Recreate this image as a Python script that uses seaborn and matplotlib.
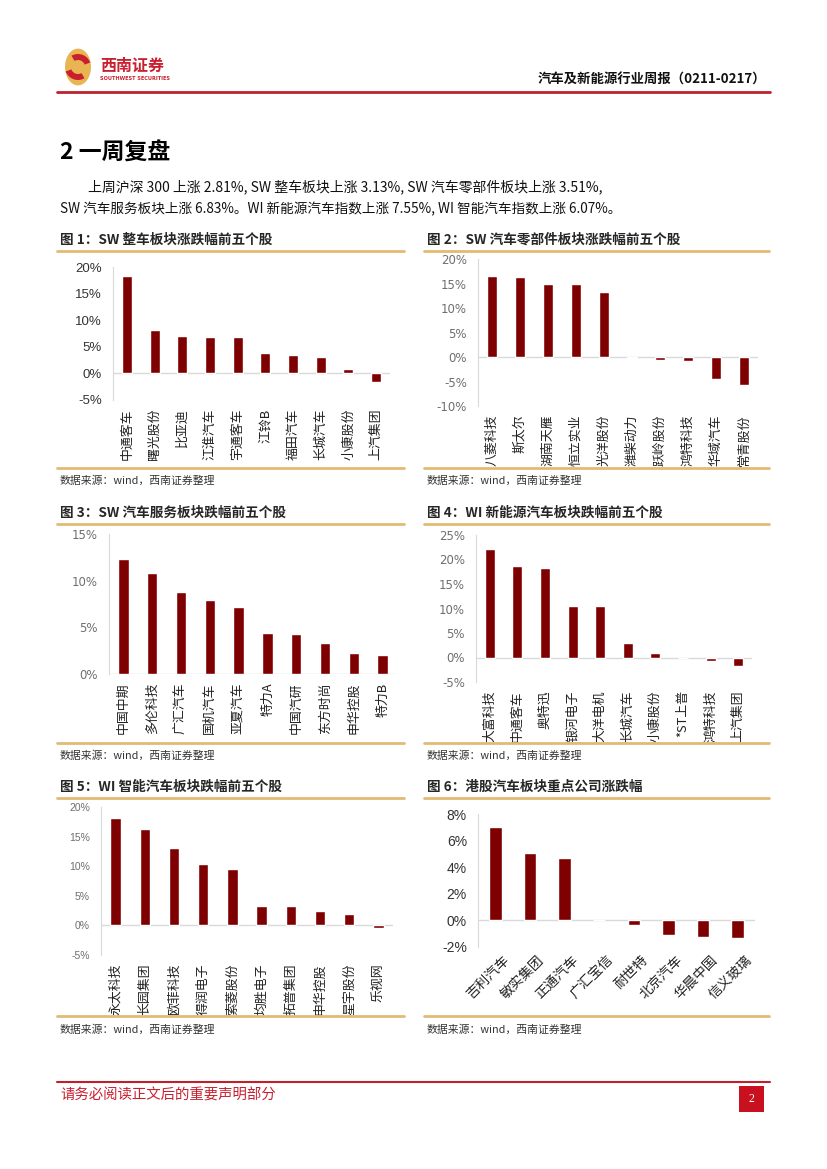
import matplotlib
matplotlib.use("Agg")
import matplotlib.pyplot as plt
import matplotlib.ticker as mticker
import matplotlib.transforms as mtransforms
from matplotlib.patches import Circle, Wedge, Rectangle
from matplotlib.lines import Line2D
import seaborn as sns

# ---- data ----
c1_title = "图 1：SW 整车板块涨跌幅前五个股"
c1_names = ["中通客车", "曙光股份", "比亚迪", "江淮汽车", "宇通客车", "江铃B", "福田汽车", "长城汽车", "小康股份", "上汽集团"]
c1_vals = [18.3, 8.1, 7.0, 6.9, 6.8, 3.8, 3.4, 3.1, 0.9, -1.6]

c2_title = "图 2：SW 汽车零部件板块涨跌幅前五个股"
c2_names = ["八菱科技", "斯太尔", "湖南天雁", "恒立实业", "光洋股份", "潍柴动力", "跃岭股份", "鸿特科技", "华域汽车", "常青股份"]
c2_vals = [16.5, 16.3, 15.0, 14.9, 13.2, -0.3, -0.6, -0.8, -4.5, -5.7]

c3_title = "图 3：SW 汽车服务板块跌幅前五个股"
c3_names = ["中国中期", "多伦科技", "广汇汽车", "国机汽车", "亚夏汽车", "特力A", "中国汽研", "东方时尚", "申华控股", "特力B"]
c3_vals = [12.35, 10.8, 8.8, 7.95, 7.2, 4.4, 4.3, 3.3, 2.3, 2.0]

c4_title = "图 4：WI 新能源汽车板块跌幅前五个股"
c4_names = ["大富科技", "中通客车", "奥特迅", "银河电子", "大洋电机", "长城汽车", "小康股份", "*ST上普", "鸿特科技", "上汽集团"]
c4_vals = [22.1, 18.6, 18.2, 10.6, 10.6, 3.0, 0.9, 0.0, -0.8, -1.7]

c5_title = "图 5：WI 智能汽车板块跌幅前五个股"
c5_names = ["永太科技", "长园集团", "欧菲科技", "得润电子", "索菱股份", "均胜电子", "拓普集团", "申华控股", "星宇股份", "乐视网"]
c5_vals = [18.1, 16.3, 13.05, 10.3, 9.5, 3.3, 3.3, 2.4, 2.0, -0.4]

c6_title = "图 6：港股汽车板块重点公司涨跌幅"
c6_names = ["吉利汽车", "敏实集团", "正通汽车", "广汇宝信", "耐世特", "北京汽车", "华晨中国", "信义玻璃"]
c6_vals = [7.0, 5.1, 4.7, 0.0, -0.33, -1.13, -1.28, -1.3]

source_text = "数据来源：wind，西南证券整理"

sns.set_style("white")
plt.rcParams["font.family"] = ["Noto Sans CJK SC", "DejaVu Sans"]
plt.rcParams["axes.unicode_minus"] = False

W, H = 827, 1169
fig = plt.figure(figsize=(W / 100, H / 100), dpi=100)

BAR = "#7F0000"
GOLD = "#E2BA75"
RED = "#C0202B"


def fx(x):
    return x / W


def fy(y):
    return 1 - y / H


def hline(x0, x1, y, color, lw):
    fig.add_artist(Line2D([fx(x0), fx(x1)], [fy(y), fy(y)], color=color, lw=lw,
                          transform=fig.transFigure))


def bar_chart(box, names, vals, ylim, step, tick_font, tick_size, tick_color,
              label_size=9.3, rot=90, width=0.36):
    left, top, right, bottom = box
    ax = fig.add_axes([fx(left), fy(bottom), fx(right - left), (bottom - top) / H])
    sns.barplot(x=names, y=vals, color=BAR, saturation=1, width=width, ax=ax)
    ax.set_xlim(-0.5, len(names) - 0.5)
    ax.set_ylim(*ylim)
    ax.yaxis.set_major_locator(mticker.MultipleLocator(step))
    ax.yaxis.set_major_formatter(mticker.PercentFormatter(100, decimals=0))
    ax.axhline(0, color="#D9D9D9", lw=1, zorder=0)
    for s in ["top", "right", "bottom"]:
        ax.spines[s].set_visible(False)
    ax.spines["left"].set_color("#D9D9D9")
    ax.tick_params(length=0)
    ax.tick_params(axis="y", pad=8)
    for t in ax.get_yticklabels():
        t.set_fontfamily(tick_font)
        t.set_fontsize(tick_size)
        t.set_color(tick_color)
    ax.set_xticks(range(len(names)))
    if rot == 90:
        ax.set_xticklabels(names, rotation=90, fontsize=label_size, color="#222222",
                           va="top", ha="center")
        ax.tick_params(axis="x", pad=6)
    else:
        ax.set_xticklabels(names, rotation=45, fontsize=label_size, color="#222222",
                           ha="right", va="center", rotation_mode="anchor")
        off = mtransforms.ScaledTranslation(12 / 100, -6 / 100, fig.dpi_scale_trans)
        for t in ax.get_xticklabels():
            t.set_transform(t.get_transform() + off)
    ax.set_xlabel("")
    ax.set_ylabel("")
    ax.set_facecolor("none")
    return ax


# ---- header ----
fig.add_artist(Circle((fx(78), fy(67)), fx(13), transform=fig.transFigure,
                      facecolor="#E9B452", edgecolor="none"))
fig.add_artist(Wedge((78, H - 67), 13, 20, 120, width=6, facecolor="#C8202F",
                     edgecolor="none", transform=None))
fig.add_artist(Wedge((78, H - 67), 13, 200, 300, width=6, facecolor="#C8202F",
                     edgecolor="none", transform=None))
fig.text(fx(100), fy(66), "西南证券", fontsize=11.5, fontweight="bold", color="#C8202F",
         va="center", ha="left")
fig.text(fx(100), fy(79), "SOUTHWEST SECURITIES", fontsize=3.6, fontweight="bold",
         color="#C8202F", va="center", ha="left", family="DejaVu Sans")
fig.text(fx(766), fy(80), "汽车及新能源行业周报（0211-0217）", fontsize=9.6,
         fontweight="bold", color="#111111", va="center", ha="right")
hline(57, 770, 92, RED, 2)

fig.text(fx(60), fy(153), "2 一周复盘", fontsize=16.5, fontweight="bold",
         color="#000000", va="center", ha="left")
fig.text(fx(88), fy(187),
         "上周沪深 300 上涨 2.81%, SW 整车板块上涨 3.13%, SW 汽车零部件板块上涨 3.51%,",
         fontsize=10, color="#111111", va="center", ha="left")
fig.text(fx(60), fy(209),
         "SW 汽车服务板块上涨 6.83%。WI 新能源汽车指数上涨 7.55%, WI 智能汽车指数上涨 6.07%。",
         fontsize=9.8, color="#111111", va="center", ha="left")

# ---- panel frames ----
rows = [(240, 251, 468, 481), (513, 524, 743, 756), (787, 798, 1016, 1030)]
titles = [(c1_title, c2_title), (c3_title, c4_title), (c5_title, c6_title)]
for (ty, top_line, bot_line, src_y), (tl, tr) in zip(rows, titles):
    fig.text(fx(60), fy(ty), tl, fontsize=9.8, fontweight="bold", va="center", ha="left")
    fig.text(fx(427), fy(ty), tr, fontsize=9.8, fontweight="bold", va="center", ha="left")
    hline(57, 404, top_line, GOLD, 2)
    hline(424, 769, top_line, GOLD, 2)
    hline(57, 404, bot_line, GOLD, 2)
    hline(424, 769, bot_line, GOLD, 2)
    fig.text(fx(60), fy(src_y), source_text, fontsize=7.8, style="italic",
             color="#333333", va="center", ha="left")
    fig.text(fx(427), fy(src_y), source_text, fontsize=7.8, style="italic",
             color="#333333", va="center", ha="left")

# ---- charts ----
bar_chart((113, 267, 390, 400), c1_names, c1_vals, (-5, 20), 5,
          "Liberation Sans", 9.5, "#333333")
bar_chart((478, 259, 758, 406), c2_names, c2_vals, (-10, 20), 5,
          "DejaVu Sans", 8.5, "#6E6E6E")
bar_chart((109, 534, 397, 674), c3_names, c3_vals, (0, 15), 5,
          "DejaVu Sans", 8.5, "#6E6E6E")
bar_chart((476, 535, 752, 682), c4_names, c4_vals, (-5, 25), 5,
          "DejaVu Sans", 8.5, "#6E6E6E")
bar_chart((101, 807, 393, 955), c5_names, c5_vals, (-5, 20), 5,
          "Liberation Sans", 7.5, "#6E6E6E")
bar_chart((478, 814, 755, 947), c6_names, c6_vals, (-2, 8), 2,
          "Liberation Sans", 10, "#333333", label_size=9.8, rot=45, width=0.36)

# ---- footer ----
hline(57, 770, 1082, RED, 1.5)
fig.text(fx(60), fy(1095), "请务必阅读正文后的重要声明部分", fontsize=10.4, color="#C8202F",
         va="center", ha="left")
fig.add_artist(Rectangle((fx(739), fy(1112)), fx(25), (1112 - 1086) / H,
                         transform=fig.transFigure, facecolor="#C8101E", edgecolor="none"))
fig.text(fx(751.5), fy(1099), "2", fontsize=8.5, color="white", va="center", ha="center",
         family="Liberation Serif")

fig.savefig("out.png", dpi=100)
